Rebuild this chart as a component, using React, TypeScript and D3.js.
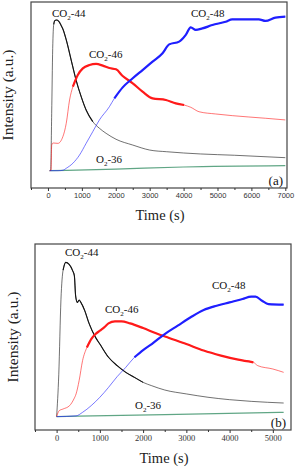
import React, { useRef, useEffect } from "react";
import * as d3 from "d3";

// panel (a) series, [time s, intensity a.u.]
const a44: [number, number][] = [
  [50, 9.3], [80, 9.5], [110, 40], [140, 75], [170, 88], [200, 90], [250, 90.3], [320, 89.6],
  [400, 87], [440, 85.5], [540, 79.6], [685, 68.8], [830, 58], [980, 49.1], [1126, 41.9],
  [1322, 35.7], [1518, 32.1], [1714, 29.4], [2008, 26.2], [2500, 23.1], [3000, 20.4],
  [3500, 19.5], [4500, 18.3], [5500, 17.6], [7000, 16.3],
];
const a46: [number, number][] = [
  [50, 9.3], [90, 9.5], [110, 23], [150, 24.2], [294, 24], [440, 27.6], [540, 34.8],
  [637, 47.3], [735, 54.5], [880, 60.8], [1028, 64.3], [1224, 66.1], [1420, 66.7],
  [1616, 65.8], [1812, 64.5], [2008, 63.8], [2204, 60.2], [2500, 56.3], [2790, 51.8],
  [3085, 48.2], [3477, 47.3], [3770, 45.5], [4016, 44.6], [4211, 43.4], [4456, 41],
  [4946, 39.8], [5436, 38.9], [6415, 37.5], [7000, 36.6],
];
const a48: [number, number][] = [
  [50, 9.3], [300, 9.3], [450, 9.6], [540, 10.6], [735, 13.3], [930, 17.7], [1126, 24],
  [1322, 30.3], [1518, 36.6], [1812, 43.7], [1959, 48.2], [2204, 54.1], [2500, 59],
  [2790, 63.4], [3085, 67.9], [3380, 72.4], [3575, 77.2], [3870, 78.7], [4065, 82.3],
  [4211, 86.4], [4358, 85], [4554, 85.8], [4848, 87.6], [5240, 89.4], [5436, 90.7],
  [5925, 90.7], [6219, 90.7], [6415, 89.8], [6709, 91.6], [7000, 92.1],
];
const a36: [number, number][] = [
  [50, 9.3], [2000, 10.2], [4000, 11.3], [7000, 12],
];

// panel (b) series
const b44: [number, number][] = [
  [0, 7.2], [50, 30], [100, 70], [150, 86], [210, 90.1], [290, 89], [370, 85.7], [410, 83],
  [440, 72], [480, 68.6], [520, 69.9], [560, 68.6], [650, 64.2], [750, 57.3], [900, 49.8],
  [1000, 46.2], [1200, 39.1], [1400, 34.6], [1600, 31], [1800, 28.3], [2000, 25.6],
  [2200, 23.8], [2500, 21.5], [3000, 19.4], [3500, 17.6], [4000, 16.3], [4500, 15.4],
  [5250, 14.5],
];
const b46: [number, number][] = [
  [0, 7.2], [60, 10.4], [150, 11.3], [300, 13.1], [400, 16.7], [450, 19.4], [520, 26.5],
  [600, 37.3], [700, 44.4], [800, 48.9], [900, 51.6], [1000, 53.4], [1100, 55.2],
  [1200, 57.3], [1350, 58.4], [1500, 58.4], [1700, 57.3], [2000, 54.8], [2300, 52],
  [2600, 49.5], [3000, 46.2], [3400, 42.7], [3800, 40], [4200, 37.8], [4550, 36.4],
  [4650, 34.6], [5000, 32.8], [5250, 31],
];
const b48: [number, number][] = [
  [0, 7.2], [450, 7.6], [600, 9.5], [800, 13.1], [1000, 17.6], [1200, 22.9], [1400, 28.7],
  [1600, 33.7], [1800, 39.1], [2000, 43], [2200, 46.2], [2500, 51.6], [2800, 56.1],
  [3100, 60.6], [3400, 64.5], [3700, 66.8], [4000, 68.6], [4300, 70.4], [4500, 71.7],
  [4600, 71.7], [4750, 69.5], [4900, 67.7], [5250, 67.4],
];
const b36: [number, number][] = [
  [0, 7.2], [2500, 8.3], [5250, 9.5],
];

const ticksA = [0, 1000, 2000, 3000, 4000, 5000, 6000, 7000];
const ticksB = [0, 1000, 2000, 3000, 4000, 5000];

const black = "#111", red = "#ff1a1a", blue = "#1f1fff", green = "#4f9c78";
const serif = "\"Liberation Serif\", \"Times New Roman\", serif";
const sans = "\"Liberation Sans\", Arial, sans-serif";

// panel layouts
const panels = [
  {
    id: "(a)", left: 31, right: 287, top: 2, bottom: 188, xDomain: [-500, 7050],
    ticks: ticksA, tickFont: sans, tickSize: 7.5,
    series: [
      { data: a36, color: green, thick: null },
      { data: a44, color: black, thick: [150, 1500] },
      { data: a46, color: red, thick: [700, 4200] },
      { data: a48, color: blue, thick: [1900, 7000] },
    ],
    labels: [
      { x: 52, y: 17, main: "CO", sub: "2", rest: "-44" },
      { x: 89, y: 58, main: "CO", sub: "2", rest: "-46" },
      { x: 191, y: 17, main: "CO", sub: "2", rest: "-48" },
      { x: 96, y: 163, main: "O", sub: "2", rest: "-36" },
    ],
    tag: { x: 283, y: 185 }, timeY: 220, intX: 13,
  },
  {
    id: "(b)", left: 35, right: 291, top: 244, bottom: 430, xDomain: [-500, 5420],
    ticks: ticksB, tickFont: serif, tickSize: 8.5,
    series: [
      { data: b36, color: green, thick: null },
      { data: b44, color: black, thick: [150, 2000] },
      { data: b46, color: red, thick: [700, 4600] },
      { data: b48, color: blue, thick: [1800, 5250] },
    ],
    labels: [
      { x: 65, y: 256, main: "CO", sub: "2", rest: "-44" },
      { x: 105, y: 313, main: "CO", sub: "2", rest: "-46" },
      { x: 212, y: 289, main: "CO", sub: "2", rest: "-48" },
      { x: 135, y: 409, main: "O", sub: "2", rest: "-36" },
    ],
    tag: { x: 286, y: 427 }, timeY: 463, intX: 18,
  },
];

export default function App() {
  const svgRef = useRef<SVGSVGElement>(null);

  useEffect(() => {
    const svg = d3.select(svgRef.current);
    svg.selectAll("*").remove();

    panels.forEach(p => {
      const x = d3.scaleLinear().domain(p.xDomain).range([p.left, p.right]);
      const y = d3.scaleLinear().domain([0, 100]).range([p.bottom, p.top]);
      const g = svg.append("g");

      const ln = d3.line<[number, number]>()
        .x(d => x(d[0]))
        .y(d => y(d[1]))
        .curve(d3.curveMonotoneX);

      p.series.forEach(s => {
        g.append("path")
          .attr("d", ln(s.data))
          .attr("fill", "none")
          .attr("stroke", s.color)
          .attr("stroke-width", s.color === green ? 1.2 : 0.8)
          .attr("stroke-opacity", s.color === green ? 0.9 : 0.75);
        if (s.thick) {
          const seg = s.data.filter(d => d[0] >= s.thick[0] && d[0] <= s.thick[1]);
          g.append("path")
            .attr("d", ln(seg))
            .attr("fill", "none")
            .attr("stroke", s.color)
            .attr("stroke-width", s.color === black ? 1.1 : 2.2);
        }
      });

      // frame
      g.append("rect")
        .attr("x", p.left).attr("y", p.top)
        .attr("width", p.right - p.left).attr("height", p.bottom - p.top)
        .attr("fill", "none").attr("stroke", "#444").attr("stroke-width", 1.2);

      // x axis, minor then major ticks
      const minor = p.ticks.map(t => t - 500).concat([p.ticks[p.ticks.length - 1] + 500])
        .filter(t => t >= p.xDomain[0] && t <= p.xDomain[1]);
      const minorAxis = g.append("g")
        .attr("transform", `translate(0,${p.bottom})`)
        .call(d3.axisBottom(x).tickValues(minor).tickSize(2).tickFormat(() => ""));
      minorAxis.select(".domain").remove();
      minorAxis.selectAll("line").attr("stroke", "#333");

      const axis = g.append("g")
        .attr("transform", `translate(0,${p.bottom})`)
        .call(d3.axisBottom(x).tickValues(p.ticks).tickSize(3).tickPadding(2).tickFormat(d3.format("d")));
      axis.select(".domain").remove();
      axis.selectAll("line").attr("stroke", "#333");
      axis.selectAll("text")
        .style("font-family", p.tickFont)
        .style("font-size", p.tickSize + "px")
        .attr("fill", "#333");

      // axis titles
      g.append("text")
        .attr("x", (p.left + p.right) / 2 + 1)
        .attr("y", p.timeY)
        .attr("text-anchor", "middle")
        .style("font-family", serif)
        .style("font-size", "14.5px")
        .attr("fill", "#222")
        .text("Time (s)");

      g.append("text")
        .attr("transform", `translate(${p.intX},${(p.top + p.bottom) / 2}) rotate(-90)`)
        .attr("text-anchor", "middle")
        .style("font-family", serif)
        .style("font-size", "15.5px")
        .attr("fill", "#222")
        .text("Intensity (a.u.)");

      // curve labels
      p.labels.forEach(l => {
        const t = g.append("text")
          .attr("x", l.x).attr("y", l.y)
          .style("font-family", serif)
          .style("font-size", "11px")
          .attr("fill", "#111");
        t.append("tspan").text(l.main);
        t.append("tspan").attr("dy", 3).style("font-size", "7px").text(l.sub);
        t.append("tspan").attr("dy", -3).text(l.rest);
      });

      g.append("text")
        .attr("x", p.tag.x).attr("y", p.tag.y)
        .attr("text-anchor", "end")
        .style("font-family", serif)
        .style("font-size", "13px")
        .attr("fill", "#111")
        .text(p.id);
    });

    return () => {
      svg.selectAll("*").remove();
    };
  }, []);

  return (
    <svg ref={svgRef} width={297} height={468}
      style={{ position: "absolute", left: 0, top: 0, background: "#fff" }} />
  );
}
